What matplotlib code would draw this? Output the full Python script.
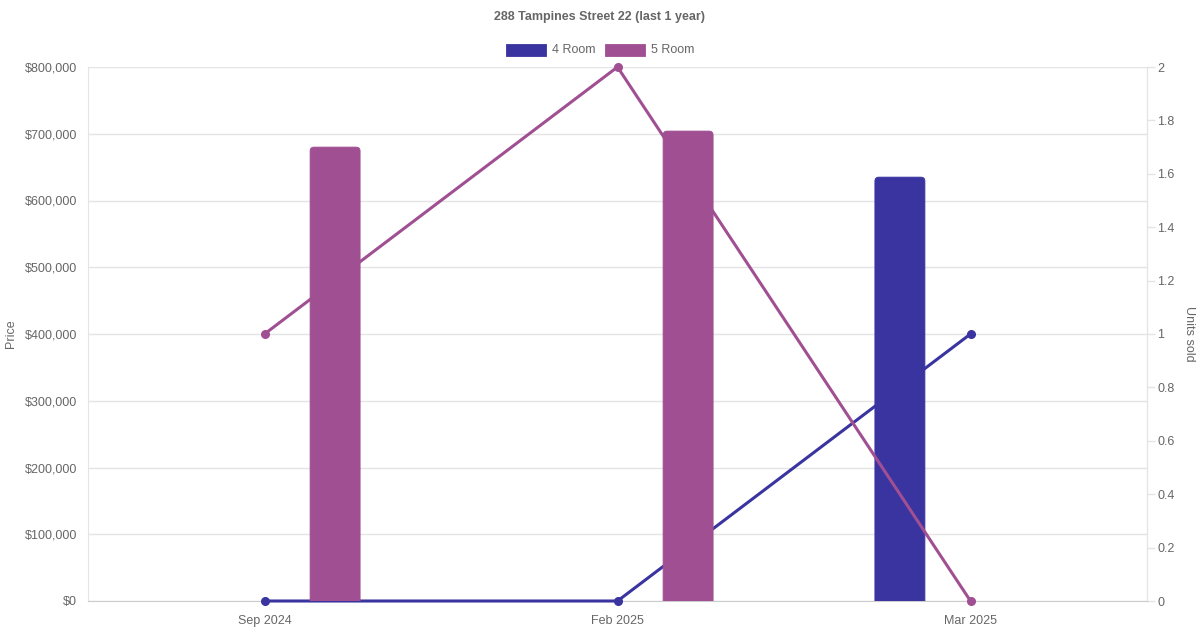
import numpy as np
import matplotlib
matplotlib.use("Agg")
import matplotlib.pyplot as plt
import matplotlib.ticker as mticker
from matplotlib.patches import FancyBboxPatch, Rectangle

months = ["Sep 2024", "Feb 2025", "Mar 2025"]
price_4room = [None, None, 635000]
price_5room = [680000, 704000, None]
units_4room = [0, 0, 1]
units_5room = [1, 2, 0]

col4 = "#3a34a0"
col5 = "#a05092"
grid = "#e4e4e4"
txt = "#666666"

plt.rcParams["font.family"] = ["Liberation Sans", "DejaVu Sans"]

fig = plt.figure(figsize=(12, 6.3), dpi=100)
ax = fig.add_axes([88 / 1200, 29 / 630, 1059 / 1200, 534 / 630])

ymax = 800000
umax = 2
scale = ymax / umax  # units -> price axis

x = np.arange(len(months))
ax.set_xlim(-0.5, len(months) - 0.5)
ax.set_ylim(0, ymax)

# px -> data sizes
px_x = 1.0 / 353
px_y = ymax / 534
bw = 50 * px_x
off = 70.6 * px_x
rad = 4 * px_x


def draw_bars(vals, shift, color, z):
    for xi, v in zip(x, vals):
        if v is None:
            continue
        p = FancyBboxPatch((xi + shift - bw / 2, -10 * px_y), bw, v + 10 * px_y,
                           boxstyle="round,pad=0,rounding_size=%f" % rad,
                           mutation_aspect=px_y / px_x,
                           facecolor=color, edgecolor=color, linewidth=0.6,
                           zorder=z, clip_on=True)
        ax.add_patch(p)


# draw order: 4 room line, 4 room bar, 5 room line, 5 room bar
ax.plot(x, np.array(units_4room) * scale, color=col4, lw=2.2, marker="o", ms=5.5,
        zorder=3, clip_on=False)
draw_bars(price_4room, -off, col4, 4)
ax.plot(x, np.array(units_5room) * scale, color=col5, lw=2.2, marker="o", ms=5.5,
        zorder=5, clip_on=False)
draw_bars(price_5room, off, col5, 6)

ax.set_yticks(np.arange(0, ymax + 1, 100000))
ax.yaxis.set_major_formatter(mticker.FuncFormatter(lambda v, p: "${:,.0f}".format(v)))
ax.set_xticks(x)
ax.set_xticklabels(months)
ax.tick_params(axis="both", length=0, colors=txt, labelsize=9)
ax.tick_params(axis="y", pad=8)
ax.tick_params(axis="x", pad=10)
ax.grid(axis="y", color=grid, lw=1, zorder=0)
ax.set_axisbelow(True)
ax.spines["top"].set_visible(False)
for s in ["left", "right"]:
    ax.spines[s].set_color(grid)
ax.spines["bottom"].set_color("#cccccc")

sec = ax.secondary_yaxis("right", functions=(lambda v: v / scale, lambda v: v * scale))
sec.set_yticks(np.arange(0, umax + 0.01, 0.2))
sec.yaxis.set_major_formatter(mticker.FuncFormatter(lambda v, p: "{:g}".format(round(v, 1))))
sec.tick_params(length=5.8, width=1, color=grid, colors=txt, labelsize=9, pad=1.5)
sec.spines["right"].set_color(grid)

# axis titles
fig.text(11 / 1200, 1 - 334 / 630, "Price", rotation=90, ha="center", va="center",
         fontsize=9, color=txt)
fig.text(1189 / 1200, 1 - 334 / 630, "Units sold", rotation=-90, ha="center", va="center",
         fontsize=9, color=txt)

fig.text(0.5, 1 - 17 / 630, "288 Tampines Street 22 (last 1 year)", ha="center", va="center",
         fontsize=9, fontweight="bold", color=txt)

# legend
for lx, col, name in [(506, col4, "4 Room"), (605, col5, "5 Room")]:
    fig.patches.append(Rectangle((lx / 1200, 1 - 56 / 630), 40 / 1200, 12 / 630,
                                 transform=fig.transFigure, facecolor=col, edgecolor=col,
                                 lw=0.6))
    fig.text((lx + 46) / 1200, 1 - 50 / 630, name, ha="left", va="center",
             fontsize=9, color=txt)

fig.savefig("out.png", dpi=100)
